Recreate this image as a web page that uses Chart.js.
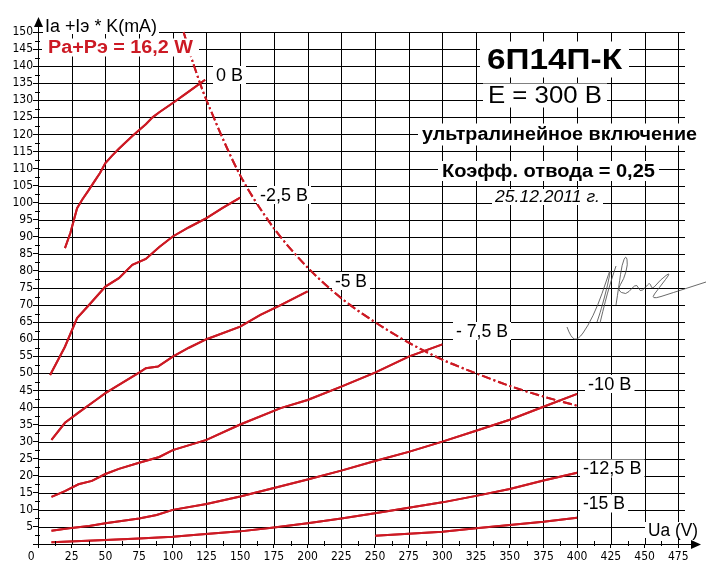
<!DOCTYPE html>
<html>
<head>
<meta charset="utf-8">
<script src="https://cdn.jsdelivr.net/npm/chart.js@4.4.0/dist/chart.umd.min.js"></script>
<style>
  html, body { margin: 0; padding: 0; background: #fff; }
</style>
</head>
<body>
<canvas id="grafico" width="720" height="576"></canvas>
<script>
// Ua (V) e Ia+Iэ*K (mA)
const ua0 = [20, 24, 29, 33, 37, 42, 46, 50, 55, 60, 70, 80, 85, 90, 100, 110, 124];
const ia0 = [86.7, 91.1, 98.4, 101, 103.3, 106.3, 108.7, 111.6, 113.8, 115.8, 119.5, 123, 125, 126.5, 129.2, 132, 136];

const ua25 = [9, 20, 29, 38, 50, 60, 70, 80, 90, 100, 112, 125, 137, 150];
const ia25 = [49.5, 57.8, 66.2, 70.1, 75.4, 77.9, 81.8, 83.5, 87, 90.1, 92.8, 95.5, 98.5, 101.5];

const ua5 = [10, 20, 30, 43, 50, 60, 75, 80, 89, 100, 112, 125, 150, 165, 180, 200];
const ia5 = [30.5, 35.5, 38.5, 42.2, 44.2, 46.6, 50.2, 51.5, 52, 54.9, 57.5, 60, 63.7, 67.1, 70, 74];

const ua75 = [10, 20, 30, 40, 50, 60, 75, 90, 100, 125, 150, 180, 200, 225, 250, 275, 300];
const ia75 = [13.8, 15.5, 17.5, 18.5, 20.5, 22, 23.8, 25.5, 27.5, 30.5, 35, 39.8, 42.2, 46.1, 50.2, 54.9, 58.5];

const ua10 = [10, 23, 38, 50, 75, 88, 100, 125, 150, 175, 200, 225, 250, 275, 300, 325, 350, 375, 400];
const ia10 = [3.9, 4.6, 5.3, 6.1, 7.5, 8.5, 10, 11.7, 13.9, 16.4, 18.9, 21.5, 24.3, 27, 30, 33.2, 36.4, 40.2, 44];

const ua125 = [10, 50, 75, 100, 120, 150, 175, 200, 225, 250, 275, 300, 325, 350, 375, 400];
const ia125 = [0.5, 1.2, 1.6, 2.1, 2.8, 3.7, 4.8, 6.1, 7.5, 9.0, 10.6, 12.2, 14.1, 16.1, 18.6, 20.9];

const ua15 = [250, 275, 300, 325, 350, 375, 400];
const ia15 = [2.4, 3.0, 3.6, 4.6, 5.6, 6.5, 7.7];

// Pa+Pэ = 16,2 W
const uaP = [108, 115, 125, 150, 175, 200, 225, 250, 275, 300, 325, 350, 375, 400];
const iaP = [150, 141, 130, 108, 92.5, 81, 72, 65, 59, 54, 50, 46.3, 43.2, 40.5];

// linhas da grade e marcas secundárias
const linhasX = [25, 50, 75, 100, 125, 150, 175, 200, 225, 250, 275, 300, 325, 350, 375, 400, 425, 450, 475];
const linhasY = [5, 10, 15, 20, 25, 30, 35, 40, 45, 50, 55, 60, 65, 70, 75, 80, 85, 90, 95, 100, 105, 110, 115, 120, 125, 130, 135, 140, 145, 150];
const menoresX = [12.5, 37.5, 62.5, 87.5, 112.5, 137.5, 162.5, 187.5, 212.5, 237.5, 262.5, 287.5, 312.5, 337.5, 362.5, 387.5, 412.5, 437.5, 462.5];
const menoresY = [2.5, 7.5, 12.5, 17.5, 22.5, 27.5, 32.5, 37.5, 42.5, 47.5, 52.5, 57.5, 62.5, 67.5, 72.5, 77.5, 82.5, 87.5, 92.5, 97.5, 102.5, 107.5, 112.5, 117.5, 122.5, 127.5, 132.5, 137.5, 142.5, 147.5];

const vermelho = '#cc1a24';
const fonte = "'Liberation Sans', Arial, sans-serif";
const fonteEstreita = "'Liberation Sans Narrow', 'Arial Narrow', 'DejaVu Sans Condensed', sans-serif";

function serie(ua, ia) {
  return ua.map((u, i) => ({ x: u, y: ia[i] }));
}

function curva(nome, ua, ia) {
  return {
    label: nome,
    data: serie(ua, ia),
    borderColor: vermelho,
    borderWidth: 2,
    pointRadius: 0,
    fill: false,
    tension: 0
  };
}

// textos: [texto, x, y(centro), largura, tamanho, peso, cor, padX, alturaCaixa]
const textos = [
  ['Ia +Iэ * K(mA)', 45, 26, 112, 18, 'normal', '#000', 2, 16],
  ['Pa+Pэ = 16,2 W', 48, 47.5, 145, 18, 'bold', vermelho, 6, 18],
  ['6П14П-К', 487, 59.5, 135, 29, 'bold', '#000', 7, 36],
  ['E = 300 В', 488, 95.5, 114, 24, 'normal', '#000', 5, 24],
  ['ультралинейное включение', 422, 134.5, 275, 18, 'bold', '#000', 4, 22],
  ['Коэфф. отвода = 0,25', 442, 171, 213, 18, 'bold', '#000', 4, 20],
  ['25.12.2011 г.', 495, 197, 105, 16, 'italic', '#000', 3, 16],
  ['0 В', 216, 75, 27, 18, 'normal', '#000', 3, 18],
  ['-2,5 В', 260, 195, 48, 18, 'normal', '#000', 3, 18],
  ['-5 В', 335, 281, 32, 18, 'normal', '#000', 3, 18],
  ['- 7,5 В', 456, 331, 52, 18, 'normal', '#000', 3, 18],
  ['-10 В', 588, 384, 43.5, 18, 'normal', '#000', 3, 18],
  ['-12,5 В', 583, 468.5, 58.5, 18, 'normal', '#000', 3, 18],
  ['-15 В', 583, 503.5, 42, 18, 'normal', '#000', 3, 18],
  ['Ua (V)', 648, 530, 50, 18, 'normal', '#000', 3, 16]
];

// assinatura (traços à mão)
const assinatura = [
  [[567, 327], [571, 338], [578, 340], [588, 326], [598, 305], [606, 282], [611, 267], [608, 284], [601, 310], [597, 322]],
  [[600, 323], [606, 298], [612, 278], [616, 266]],
  [[616, 305], [619, 285], [622, 264], [626, 255], [628, 264], [624, 279], [617, 290], [626, 295], [632, 288], [637, 284], [640, 292], [645, 288], [650, 282], [652, 290], [660, 280], [672, 271], [659, 288], [650, 300], [672, 293], [706, 282]]
];

function desenhaGrade(chart) {
  const c = chart.ctx;
  const a = chart.chartArea;
  const sx = chart.scales.x, sy = chart.scales.y;
  const x0 = Math.round(a.left), x1 = Math.round(a.right);
  const y0 = Math.round(a.top), y1 = Math.round(a.bottom);
  c.save();
  c.globalCompositeOperation = 'source-over';
  c.globalAlpha = 1;
  c.fillStyle = '#000';
  linhasY.forEach(v => {
    const p = Math.round(sy.getPixelForValue(v));
    c.fillRect(x0, p, x1 - x0, 1);
  });
  linhasX.forEach(v => {
    const p = Math.round(sx.getPixelForValue(v));
    c.fillRect(p, y0, 1, y1 - y0);
  });
  c.restore();
}

const anotacoes = {
  id: 'anotacoes',
  afterDraw(chart) {
    const c = chart.ctx;
    const a = chart.chartArea;
    const sx = chart.scales.x, sy = chart.scales.y;
    const ax = Math.round(a.left), ay = Math.round(a.bottom);

    // grade e curvas por cima dela
    desenhaGrade(chart);
    c.save();
    c.beginPath();
    c.rect(a.left, a.top - 2, a.right - a.left, a.bottom - a.top + 4);
    c.clip();
    chart.getSortedVisibleDatasetMetas().forEach(meta => meta.controller.draw());
    c.restore();

    c.save();
    // marcas secundárias
    c.fillStyle = '#000';
    menoresX.forEach(v => {
      const p = Math.round(sx.getPixelForValue(v));
      c.fillRect(p, ay - 3, 1, 5);
    });
    menoresY.forEach(v => {
      const p = Math.round(sy.getPixelForValue(v));
      c.fillRect(ax - 3, p, 5, 1);
    });

    // assinatura
    c.strokeStyle = '#444';
    c.lineWidth = 0.8;
    c.setLineDash([]);
    assinatura.forEach(tr => {
      c.beginPath();
      c.moveTo(tr[0][0], tr[0][1]);
      for (let i = 1; i < tr.length - 1; i++) {
        const mx = (tr[i][0] + tr[i + 1][0]) / 2, my = (tr[i][1] + tr[i + 1][1]) / 2;
        c.quadraticCurveTo(tr[i][0], tr[i][1], mx, my);
      }
      const u = tr[tr.length - 1];
      c.lineTo(u[0], u[1]);
      c.stroke();
    });

    // textos com fundo branco
    textos.forEach(([t, x, y, w, tam, peso, cor, px, hb]) => {
      const estilo = peso === 'italic' ? 'italic ' : (peso === 'bold' ? 'bold ' : '');
      c.font = estilo + tam + 'px ' + fonte;
      const med = c.measureText(t).width || w;
      c.fillStyle = '#fff';
      c.fillRect(x - px, y - hb / 2, w + 2 * px, hb);
      c.save();
      c.translate(x, y + tam * 0.05);
      c.scale(w / med, 1);
      c.fillStyle = cor;
      c.textAlign = 'left';
      c.textBaseline = 'middle';
      c.fillText(t, 0, 0);
      c.restore();
    });

    // setas dos eixos
    c.fillStyle = '#000';
    c.fillRect(ax, 26, 1, Math.round(a.top) - 26);
    c.fillRect(Math.round(a.right), ay, 692 - Math.round(a.right), 1);
    c.beginPath();
    c.moveTo(ax + 0.5, 17);
    c.lineTo(ax - 4, 27);
    c.lineTo(ax + 5, 27);
    c.closePath();
    c.fill();
    c.beginPath();
    c.moveTo(701, ay + 0.5);
    c.lineTo(691, ay - 4);
    c.lineTo(691, ay + 5);
    c.closePath();
    c.fill();
    c.restore();
  }
};

const ctx = document.getElementById('grafico').getContext('2d');

const grafico = new Chart(ctx, {
  type: 'line',
  data: {
    datasets: [
      curva('0 В', ua0, ia0),
      curva('-2,5 В', ua25, ia25),
      curva('-5 В', ua5, ia5),
      curva('-7,5 В', ua75, ia75),
      curva('-10 В', ua10, ia10),
      curva('-12,5 В', ua125, ia125),
      curva('-15 В', ua15, ia15),
      {
        label: 'Pa+Pэ = 16,2 W',
        data: serie(uaP, iaP),
        borderColor: vermelho,
        borderWidth: 2,
        borderDash: [9, 3, 2, 3],
        pointRadius: 0,
        fill: false,
        tension: 0.3
      }
    ]
  },
  options: {
    responsive: false,
    animation: false,
    devicePixelRatio: 1,
    layout: { padding: { top: 32, right: 35, left: 0, bottom: 0 } },
    plugins: {
      legend: { display: false },
      tooltip: { enabled: false }
    },
    scales: {
      x: {
        type: 'linear',
        min: 0,
        max: 480,
        afterFit: s => { s.height = 32; },
        border: { display: true, color: '#000', width: 1 },
        grid: { drawOnChartArea: false, color: '#000', tickLength: 4 },
        ticks: {
          stepSize: 25,
          autoSkip: false,
          includeBounds: false,
          maxRotation: 0,
          minRotation: 0,
          padding: 2,
          color: '#000',
          font: { family: fonteEstreita, size: 12 },
          callback: v => v === 0 ? '0    ' : String(v)
        }
      },
      y: {
        type: 'linear',
        min: 0,
        max: 150,
        afterFit: s => { s.width = 38; },
        border: { display: true, color: '#000', width: 1 },
        grid: { drawOnChartArea: false, color: '#000', tickLength: 5 },
        ticks: {
          stepSize: 5,
          autoSkip: false,
          includeBounds: false,
          padding: 0,
          color: '#000',
          font: { family: fonteEstreita, size: 12 },
          callback: v => v > 0 ? String(v) : ''
        }
      }
    }
  },
  plugins: [anotacoes]
});
</script>
</body>
</html>
